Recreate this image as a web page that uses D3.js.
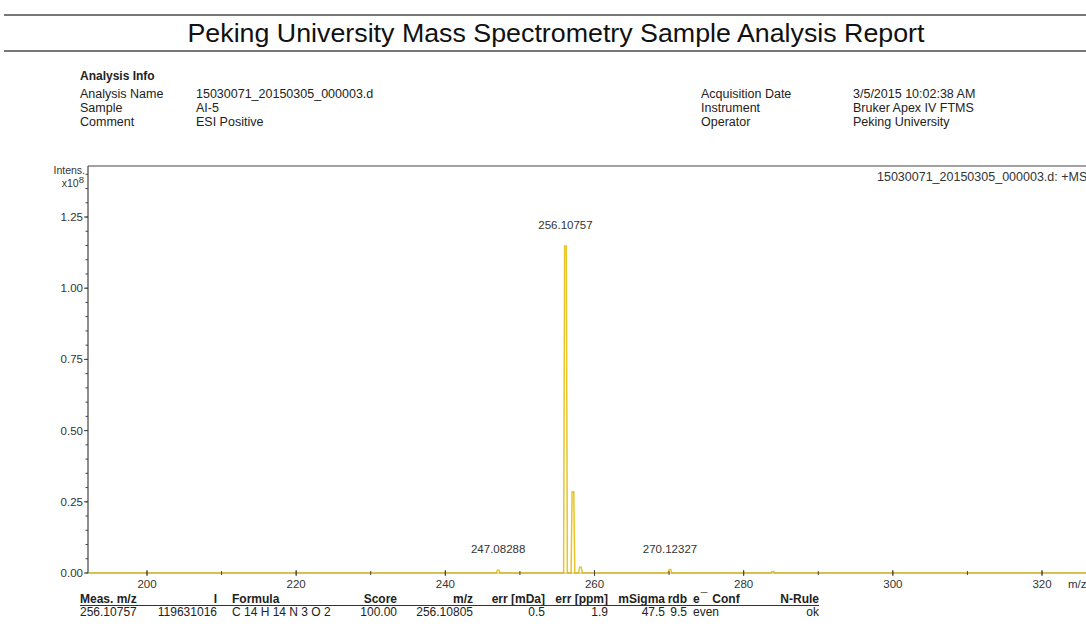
<!DOCTYPE html>
<html><head><meta charset="utf-8">
<script src="https://cdn.jsdelivr.net/npm/d3@7"></script>
<style>body{margin:0;background:#fff}svg{display:block}text{font-family:"Liberation Sans",Arial,sans-serif;fill:#222}</style>
</head><body>
<script>
// ---- data ----
const title = "Peking University Mass Spectrometry Sample Analysis Report";
const infoLeftLabels = ["Analysis Name", "Sample", "Comment"];
const infoLeftValues = ["15030071_20150305_000003.d", "AI-5", "ESI Positive"];
const infoRightLabels = ["Acquisition Date", "Instrument", "Operator"];
const infoRightValues = ["3/5/2015 10:02:38 AM", "Bruker Apex IV FTMS", "Peking University"];
const peakMz = [247.08288, 256.10757, 257.11, 258.11, 270.12327, 283.9];
const peakIntens = [0.010, 1.148, 0.285, 0.020, 0.012, 0.005]; // x10^8
const peakLabels = ["247.08288", "256.10757", null, null, "270.12327", null];
const xTicks = [200, 220, 240, 260, 280, 300, 320];
const yTicks = [0, 0.25, 0.5, 0.75, 1.0, 1.25];
const traceName = "15030071_20150305_000003.d: +MS";
const tableHeaders = ["Meas. m/z", "I", "Formula", "Score", "m/z", "err [mDa]", "err [ppm]", "mSigma", "rdb", "e\u00AF Conf", "N-Rule"];
const tableRow = ["256.10757", "119631016", "C 14 H 14 N 3 O 2", "100.00", "256.10805", "0.5", "1.9", "47.5", "9.5", "even", "ok"];

// ---- layout ----
const W = 1086, H = 639;
const svg = d3.select("body").append("svg").attr("width", W).attr("height", H);

// header lines and title
[15, 51].forEach(y => svg.append("line").attr("x1", 4).attr("x2", W).attr("y1", y).attr("y2", y)
  .attr("stroke", "#777").attr("stroke-width", 2));
svg.append("text").attr("x", 556).attr("y", 42).attr("text-anchor", "middle")
  .attr("font-size", 26).attr("textLength", 737).attr("lengthAdjust", "spacingAndGlyphs")
  .style("fill", "#111").text(title);

svg.append("text").attr("x", 80).attr("y", 80).attr("font-size", 12).attr("font-weight", "bold").text("Analysis Info");
const rowY = d3.scalePoint().domain(d3.range(3)).range([98, 126]);
infoLeftLabels.forEach((t, i) => {
  svg.append("text").attr("x", 80).attr("y", rowY(i)).attr("font-size", 12.5).text(t);
  svg.append("text").attr("x", 196).attr("y", rowY(i)).attr("font-size", 12.5).text(infoLeftValues[i]);
  svg.append("text").attr("x", 701).attr("y", rowY(i)).attr("font-size", 12.5).text(infoRightLabels[i]);
  svg.append("text").attr("x", 853).attr("y", rowY(i)).attr("font-size", 12.5).text(infoRightValues[i]);
});

// ---- plot ----
const x = d3.scaleLinear().domain([200, 320]).range([147, 1042]);
const y = d3.scaleLinear().domain([0, 1.25]).range([573, 217]);
const plotLeft = 88, plotTop = 166;

// trace profile
const pts = [[x.invert(plotLeft), 0]];
const w = 0.25;
peakMz.forEach((m, i) => { pts.push([m - w, 0], [m - w * 0.45, peakIntens[i]], [m + w * 0.45, peakIntens[i]], [m + w, 0]); });
pts.push([x.invert(W), 0]);
const line = d3.line().x(d => x(d[0])).y(d => y(d[1]));
svg.append("path").attr("d", line(pts)).attr("fill", "none").attr("stroke", "#e8c42a").attr("stroke-width", 1.5);

// frame top
svg.append("line").attr("x1", plotLeft).attr("x2", W).attr("y1", plotTop).attr("y2", plotTop).attr("stroke", "#444").attr("stroke-width", 1.2);

// y axis
const yAx = svg.append("g").attr("transform", `translate(${plotLeft},0)`);
yAx.append("line").attr("y1", plotTop).attr("y2", y(0)).attr("stroke", "#444").attr("stroke-width", 1.2);
const yMinor = d3.range(0, 1.43, 0.05);
yMinor.forEach(v => yAx.append("line").attr("x1", -2.5).attr("x2", 0).attr("y1", y(v)).attr("y2", y(v)).attr("stroke", "#444"));
yTicks.forEach(v => {
  yAx.append("line").attr("x1", -4).attr("x2", 0).attr("y1", y(v)).attr("y2", y(v)).attr("stroke", "#444");
  yAx.append("text").attr("x", -5).attr("y", y(v)).attr("dy", "0.35em").attr("text-anchor", "end")
    .attr("font-size", 11.5).style("fill", "#333").text(d3.format(".2f")(v));
});
yAx.append("text").attr("x", -3).attr("y", 174).attr("text-anchor", "end").attr("font-size", 10.5).style("fill", "#333").text("Intens.");
const xt = yAx.append("text").attr("x", -4).attr("y", 187).attr("text-anchor", "end").attr("font-size", 10.5).style("fill", "#333");
xt.append("tspan").text("x10");
xt.append("tspan").attr("dy", -4).attr("font-size", 9.5).text("8");

// x axis
const xAx = svg.append("g").attr("transform", `translate(0,${y(0)})`);
xAx.append("line").attr("x1", plotLeft).attr("x2", W).attr("stroke", "#b9a53a").attr("stroke-width", 0.8);
d3.range(200, 330, 10).forEach(v => xAx.append("line").attr("x1", x(v)).attr("x2", x(v)).attr("y1", -2).attr("y2", 2).attr("stroke", "#444"));
xTicks.forEach(v => {
  xAx.append("line").attr("x1", x(v)).attr("x2", x(v)).attr("y1", -3).attr("y2", 3).attr("stroke", "#444");
  xAx.append("text").attr("x", x(v)).attr("y", 15).attr("text-anchor", "middle").attr("font-size", 11.5).style("fill", "#333").text(v);
});
xAx.append("text").attr("x", 1068).attr("y", 15).attr("font-size", 11.5).style("fill", "#333").text("m/z");

// peak labels
peakMz.forEach((m, i) => {
  if (!peakLabels[i]) return;
  svg.append("text").attr("x", x(m)).attr("y", y(peakIntens[i]) - 17).attr("text-anchor", "middle")
    .attr("font-size", 11.5).style("fill", "#333").text(peakLabels[i]);
});

svg.append("text").attr("x", 877).attr("y", 181).attr("font-size", 12.5).style("fill", "#333").text(traceName);

// ---- table ----
const colX = [80, 217, 232, 397, 473, 545, 608, 665, 687, 693, 819];
const colAnchor = ["start", "end", "start", "end", "end", "end", "end", "end", "end", "start", "end"];
const headY = 603, dataY = 616;
tableHeaders.forEach((t, i) => {
  const tx = svg.append("text").attr("x", colX[i]).attr("y", headY).attr("text-anchor", colAnchor[i])
    .attr("font-size", 12).attr("font-weight", "bold");
  if (i === 9) {
    tx.append("tspan").text("e");
    tx.append("tspan").attr("dx", 1).attr("dy", -1).text("\u00AF");
    tx.append("tspan").attr("dx", 5).attr("dy", 1).text("Conf");
  } else tx.text(t);
  svg.append("text").attr("x", colX[i]).attr("y", dataY).attr("text-anchor", colAnchor[i])
    .attr("font-size", 12).text(tableRow[i]);
});
svg.append("line").attr("x1", 80).attr("x2", 819).attr("y1", headY + 2.5).attr("y2", headY + 2.5).attr("stroke", "#333").attr("stroke-width", 1.2);
</script>
</body></html>
